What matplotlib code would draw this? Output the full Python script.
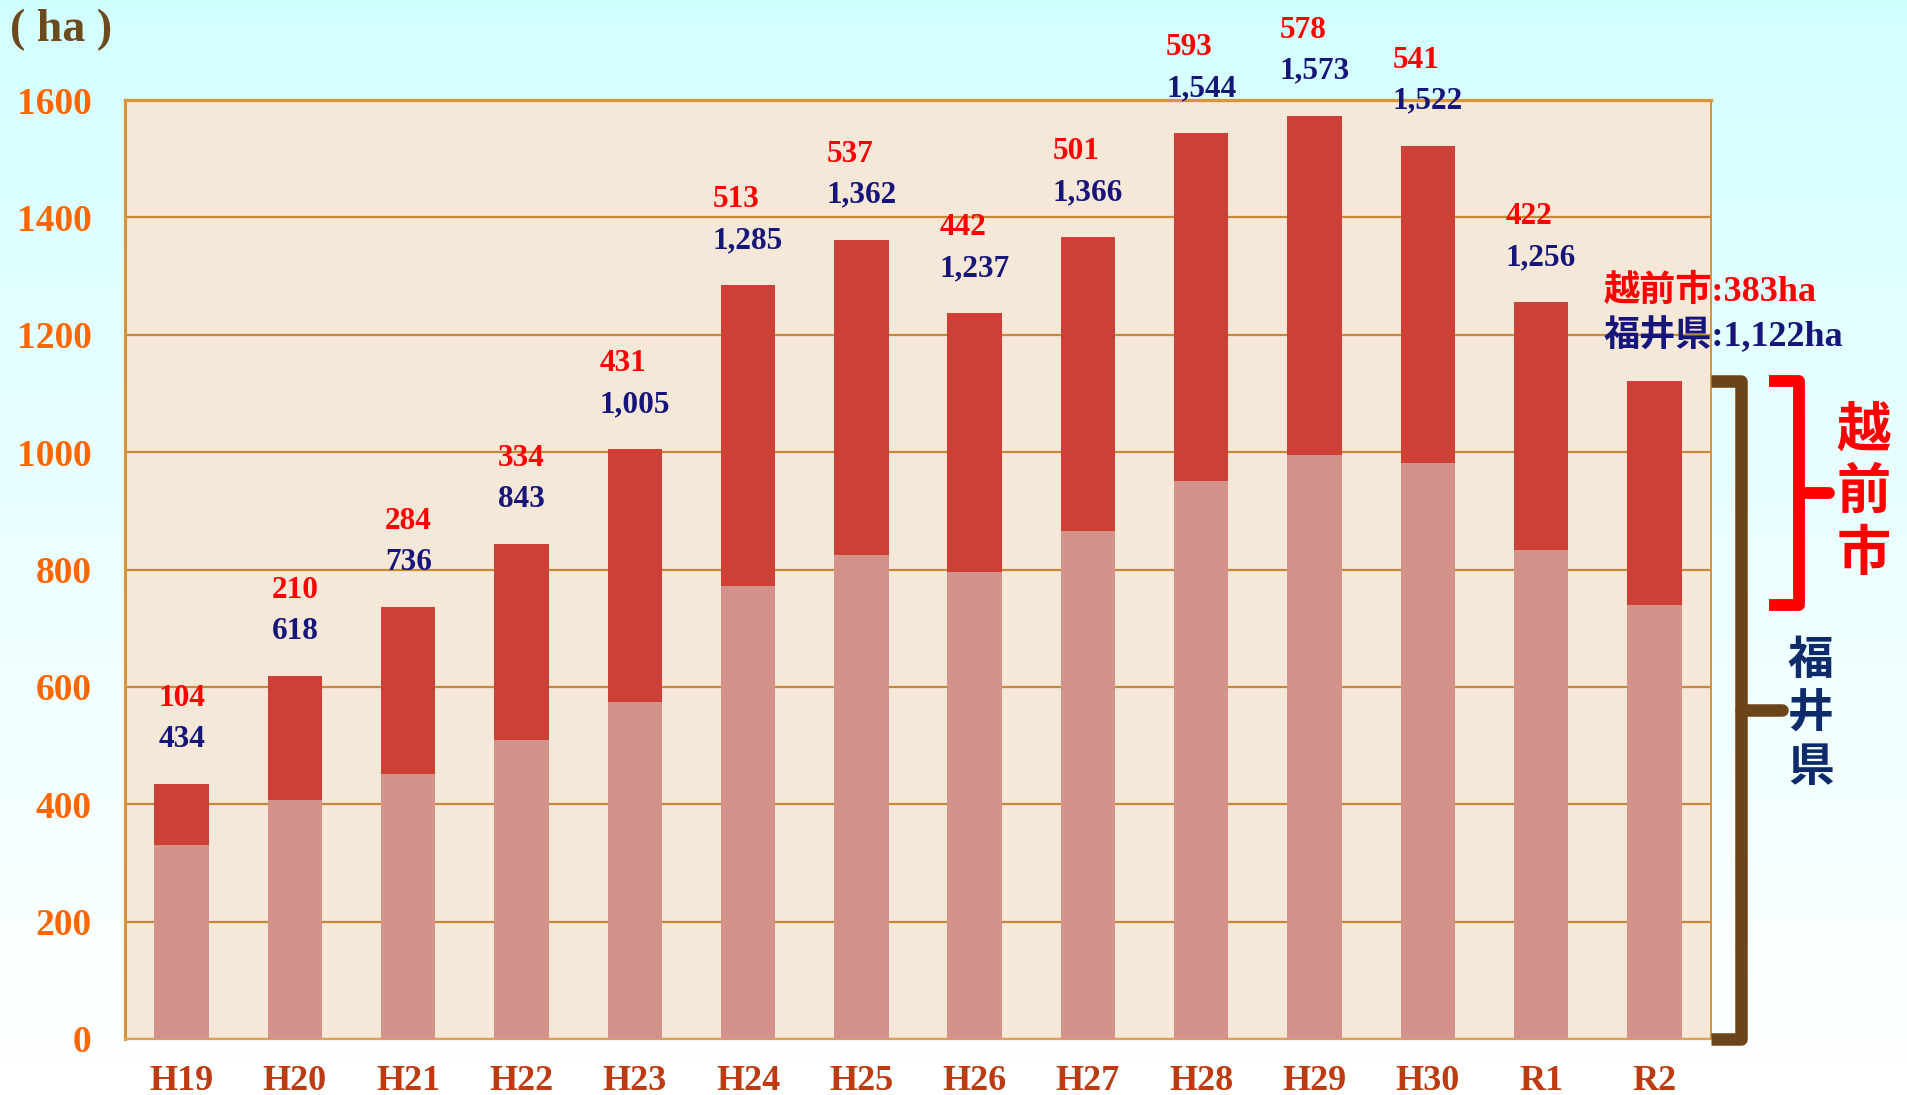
import numpy as np
import matplotlib
matplotlib.use("Agg")
import matplotlib.pyplot as plt
import matplotlib.transforms as mtransforms

# ---------------- data ----------------
years = ["H19", "H20", "H21", "H22", "H23", "H24", "H25",
         "H26", "H27", "H28", "H29", "H30", "R1", "R2"]
fukui_total = [434, 618, 736, 843, 1005, 1285, 1362,
               1237, 1366, 1544, 1573, 1522, 1256, 1122]
echizen = [104, 210, 284, 334, 431, 513, 537,
           442, 501, 593, 578, 541, 422, 383]
yticks = [0, 200, 400, 600, 800, 1000, 1200, 1400, 1600]
unit_label = "( ha )"

# ---------------- style ----------------
SERIF = ["Liberation Serif", "Noto Sans CJK JP"]
CJK = ["Noto Sans CJK JP", "DejaVu Sans"]
C_TOP = "#CC4036"
C_BOT = "#D3928A"
C_PLOT_BG = "#F5E8D8"
C_GRID = "#C8883A"
C_SPINE = "#D4943A"
C_YTICK = "#FF6600"
C_XTICK = "#BE3A10"
C_RED = "#FF0000"
C_NAVY = "#16167A"
C_NAVY2 = "#0D2A6B"
C_BROWN = "#6B4419"

W, H = 1907, 1095
fig = plt.figure(figsize=(W / 100, H / 100), dpi=100)

# gradient background
bg = fig.add_axes([0, 0, 1, 1], zorder=-10)
g = np.linspace(0, 1, 512) ** 0.8
top = np.array([0.82, 1.0, 1.0])
bot = np.array([1.0, 1.0, 1.0])
img = top[None, :] * (1 - g[:, None]) + bot[None, :] * g[:, None]
img = np.repeat(img[:, None, :], 4, axis=1)
bg.imshow(img, aspect="auto", extent=[0, 1, 0, 1])
bg.set_axis_off()

L, R, T, B = 125, 1711, 100, 1039
ax = fig.add_axes([L / W, 1 - B / H, (R - L) / W, (B - T) / H])
ax.set_facecolor(C_PLOT_BG)

x = np.arange(len(years))
base = [t - e for t, e in zip(fukui_total, echizen)]
ax.bar(x, base, width=0.48, color=C_BOT, zorder=3)
ax.bar(x, echizen, bottom=base, width=0.48, color=C_TOP, zorder=3)

ax.set_xlim(-0.5, len(years) - 0.5)
ax.set_ylim(0, 1600)
ax.set_yticks(yticks)
ax.set_yticklabels([str(v) for v in yticks])
ax.set_xticks(x)
ax.set_xticklabels(years)
ax.yaxis.grid(True, color=C_GRID, lw=1.6, zorder=1)
ax.set_axisbelow(True)
ax.tick_params(axis="y", length=0, pad=24, labelsize=27, labelcolor=C_YTICK)
ax.tick_params(axis="x", length=0, pad=19, labelsize=26, labelcolor=C_XTICK)
for lab in ax.get_yticklabels() + ax.get_xticklabels():
    lab.set_family(SERIF)
    lab.set_fontweight("bold")

ax.spines["left"].set_color(C_SPINE)
ax.spines["left"].set_linewidth(2.2)
ax.spines["top"].set_color("#D8963C")
ax.spines["top"].set_linewidth(2.4)
ax.spines["bottom"].set_color("#E0A050")
ax.spines["bottom"].set_linewidth(1.6)
ax.spines["right"].set_color(C_SPINE)
ax.spines["right"].set_linewidth(1.4)

# value labels (all but last)
for i in range(len(years) - 1):
    t, e = fukui_total[i], echizen[i]
    nv = ax.annotate(f"{t:,}", (x[i], t), xytext=(0, 32), textcoords="offset points",
                     ha="center", va="center", fontsize=22.5, fontweight="bold",
                     color=C_NAVY, family=SERIF, zorder=5)
    ax.annotate(f"{e}", xy=(0, 0.5), xycoords=nv, xytext=(0, 29.5),
                textcoords="offset points", ha="left", va="center", fontsize=22.5,
                fontweight="bold", color=C_RED, family=SERIF, zorder=5)

# unit label
fig.text(10 / W, 1 - 30 / H, unit_label, fontsize=33, fontweight="bold",
         color="#6B4A1E", family=SERIF, ha="left", va="center")

# right-side annotation for last year
tr = mtransforms.blended_transform_factory(ax.transAxes, ax.transData)
last_t, last_e = fukui_total[-1], echizen[-1]
ax.text(0.932, 1273, f"越前市:{last_e}ha", transform=tr, fontsize=26,
        fontweight="bold", color=C_RED, family=SERIF, ha="left", va="center",
        clip_on=False)
ax.text(0.932, 1198, f"福井県:{last_t:,}ha", transform=tr, fontsize=26,
        fontweight="bold", color=C_NAVY, family=SERIF, ha="left", va="center",
        clip_on=False)

# brackets
lo = last_t - last_e
ax.plot([1.0, 1.0192, 1.0192, 1.0], [last_t, last_t, 0, 0], transform=tr,
        color=C_BROWN, lw=9, solid_joinstyle="round", solid_capstyle="butt",
        clip_on=False, zorder=6)
ax.plot([1.0192, 1.0445], [last_t / 2, last_t / 2], transform=tr,
        color=C_BROWN, lw=9, solid_capstyle="round", clip_on=False, zorder=6)
ax.plot([1.0368, 1.0552, 1.0552, 1.0368], [last_t, last_t, lo, lo], transform=tr,
        color=C_RED, lw=8.5, solid_joinstyle="round", solid_capstyle="butt",
        clip_on=False, zorder=6)
mid = (last_t + lo) / 2
ax.plot([1.0552, 1.0745], [mid, mid], transform=tr,
        color=C_RED, lw=8.5, solid_capstyle="round", clip_on=False, zorder=6)

ax.text(1.096, mid, "越\n前\n市", transform=tr, fontsize=39, fontweight="bold",
        color=C_RED, family=CJK, ha="center", va="center", linespacing=1.15,
        clip_on=False)
ax.text(1.063, last_t / 2 - 8, "福\n井\n県", transform=tr, fontsize=33,
        fontweight="bold", color=C_NAVY2, family=CJK, ha="center", va="center",
        linespacing=1.2, clip_on=False)

fig.savefig("out.png", dpi=100)
